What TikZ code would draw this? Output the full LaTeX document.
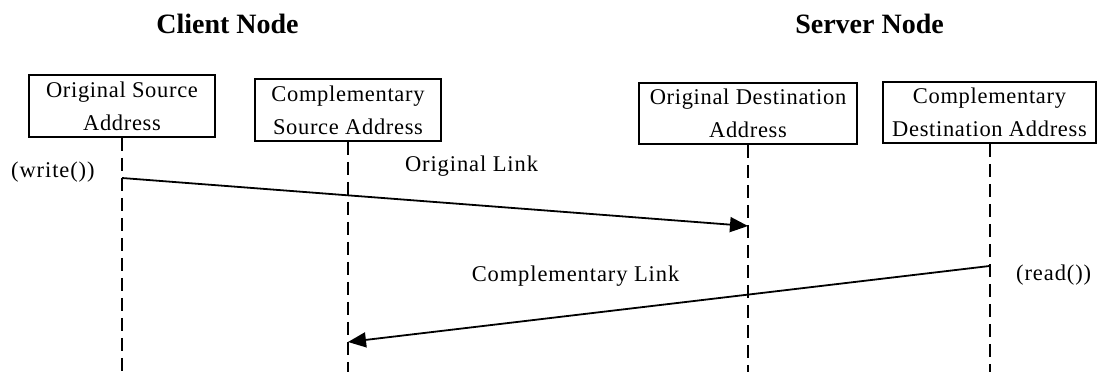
\documentclass[tikz,border=0pt]{standalone}
\usepackage{fontspec}
\setmainfont{Liberation Serif}
\usetikzlibrary{arrows.meta}
\tikzset{
  addrbox/.style={draw, line width=1.6pt, minimum height=62pt, inner sep=0pt, align=center,
    font=\fontsize{22.5}{33}\selectfont\addfontfeature{LetterSpace=3}},
  lifeline/.style={line width=2pt, dash pattern=on 13pt off 7pt},
  msg/.style={line width=1.8pt, -{Triangle[length=18pt,width=15pt]}},
  title/.style={font=\fontsize{28}{30}\selectfont\bfseries, anchor=base},
  lbl/.style={font=\fontsize{22.5}{26}\selectfont\addfontfeature{LetterSpace=4}, anchor=base, inner sep=0pt},
}
\begin{document}
\begin{tikzpicture}[x=1pt,y=-1pt]
\useasboundingbox (0,0) rectangle (1098,372);
\node[title] (client) at (227.5,33) {Client Node};
\node[title] (server) at (869.5,33) {Server Node};

\node[addrbox, minimum width=186pt] (osa) at (122,106) {Original Source\\Address};
\node[addrbox, minimum width=186pt] (csa) at (348,110) {Complementary\\Source Address};
\node[addrbox, minimum width=218pt, minimum height=61pt] (oda) at (748,113.5) {Original Destination\\Address};
\node[addrbox, minimum width=213pt, minimum height=61pt] (cda) at (989.5,112.5) {Complementary\\Destination Address};

\coordinate (osaE) at (122,372);
\coordinate (csaE) at (348,372);
\coordinate (odaE) at (748,372);
\coordinate (cdaE) at (989.5,372);
\draw[lifeline] (osa.south) -- (osaE);
\draw[lifeline] (csa.south) -- (csaE);
\draw[lifeline] (oda.south) -- (odaE);
\draw[lifeline] (cda.south) -- (cdaE);

\coordinate (w1) at (122,178);
\coordinate (w2) at (748,226);
\coordinate (r1) at (989.5,266);
\coordinate (r2) at (348,342);
\draw[msg] (w1) -- (w2);
\draw[msg] (r1) -- (r2);

\node[lbl, anchor=base west] (write) at (11,177) {(write())};
\node[lbl, anchor=base west] (read) at (1016,280) {(read())};
\node[lbl] (olink) at (471.5,171.5) {Original Link};
\node[lbl] (clink) at (575.5,281) {Complementary Link};
\end{tikzpicture}
\end{document}
